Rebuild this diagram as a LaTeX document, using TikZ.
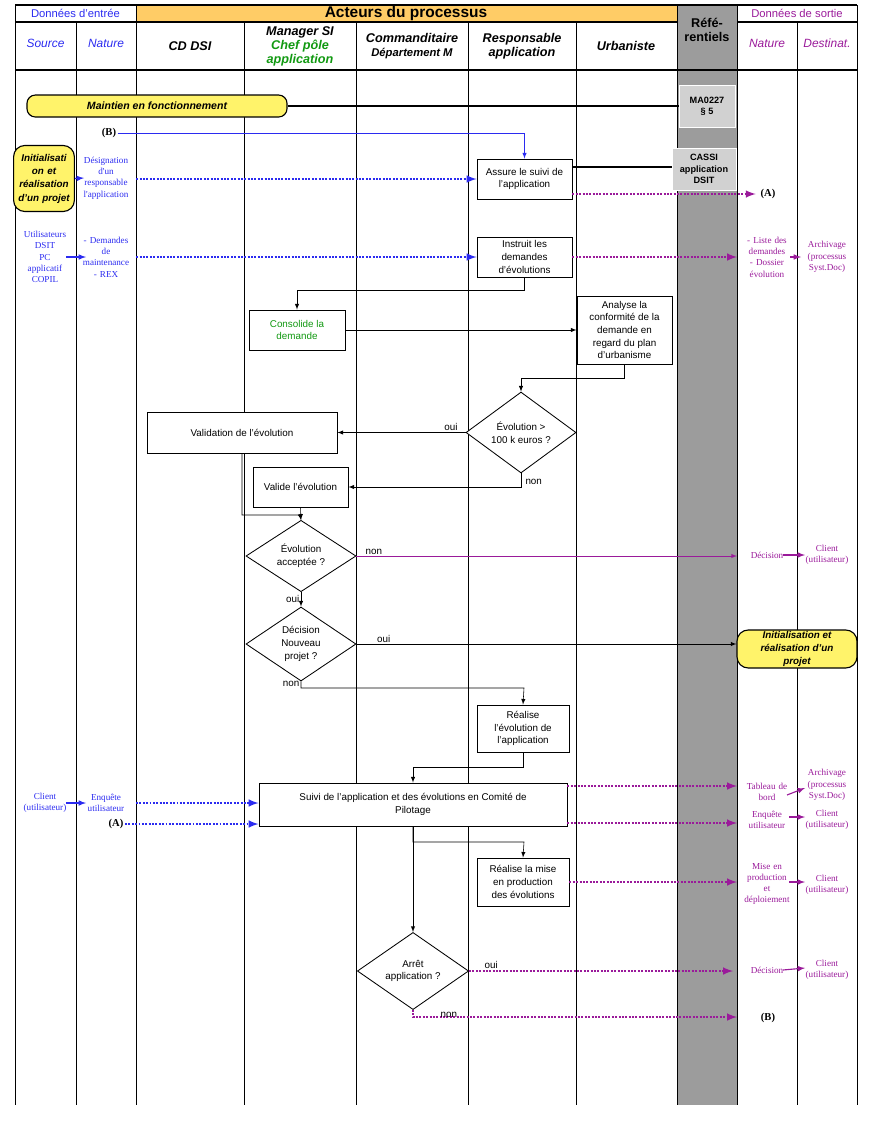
\documentclass[tikz,border=0pt]{standalone}
\usepackage{fontspec}
\setmainfont{Liberation Sans}
\newfontfamily\tms{Liberation Serif}
\usetikzlibrary{shapes.geometric,shadows,calc}
\definecolor{inblue}{HTML}{2B2BF0}
\definecolor{outpurple}{HTML}{9A1A9A}
\definecolor{paleyellow}{HTML}{FFF36A}
\definecolor{headorange}{HTML}{FFCC66}
\definecolor{refgrey}{HTML}{9C9C9C}
\definecolor{chefgreen}{HTML}{119911}
\tikzset{
  box/.style={draw, semithick, fill=white, align=center, inner sep=1pt,
    font=\fontsize{7}{9}\selectfont, drop shadow={opacity=0.35, shadow xshift=1pt, shadow yshift=-1pt}},
  dia/.style={diamond, draw, semithick, fill=white, align=center, inner sep=0pt,
    font=\fontsize{7}{9}\selectfont},
  flow/.style={-latex, thin},
  inflow/.style={-latex, inblue, densely dotted, line width=1.4pt},
  outflow/.style={-latex, outpurple, densely dotted, line width=1.4pt},
  short/.style={-latex, thick},
  intext/.style={inblue, align=center, text width=1.5cm, font=\tms\fontsize{6.5}{8}\selectfont, inner sep=0pt},
  outtext/.style={outpurple, align=center, text width=1.5cm, font=\tms\fontsize{6.5}{8}\selectfont, inner sep=0pt},
  lbl/.style={font=\fontsize{7}{8}\selectfont, inner sep=1pt},
  headtxt/.style={font=\bfseries\itshape\fontsize{9}{10}\selectfont, align=center},
  pill/.style={draw, thick, rounded corners=6pt, fill=paleyellow, align=center,
    font=\bfseries\itshape\fontsize{7.5}{9}\selectfont, inner sep=1pt},
  refbox/.style={fill=black!18, draw=white, align=center, font=\bfseries\fontsize{6.5}{8}\selectfont, inner sep=1pt}
}
\begin{document}
\begin{tikzpicture}[x=0.025cm, y=-0.025cm]
  \useasboundingbox (0,0) rectangle (870,1126);
  % header and columns
  \fill[headorange] (136,5) rectangle (677,22);
  \fill[refgrey] (677,5) rectangle (737,1105);
  \draw[thick] (15,5) -- (857,5);
  \draw[thick] (15,22) -- (677,22) (737,22) -- (857,22);
  \draw[thick] (15,70) -- (857,70);
  \foreach \x in {15,136,677,737,857} \draw (\x,5) -- (\x,1105);
  \foreach \x in {76,244,356,468,576,797} \draw (\x,22) -- (\x,1105);
  \node[inblue, font=\fontsize{8}{9}\selectfont] (hin) at (75.5,13.5) {Données d'entrée};
  \node[font=\bfseries\fontsize{11}{12}\selectfont] (hact) at (406,13.5) {Acteurs du processus};
  \node[font=\bfseries\fontsize{9}{10}\selectfont, align=center] (href) at (707,30) {Réfé-\\rentiels};
  \node[outpurple, font=\fontsize{8}{9}\selectfont] (hout) at (797,13.5) {Données de sortie};
  \node[inblue, font=\itshape\fontsize{8.5}{10}\selectfont] (hsrc) at (45.5,43) {Source};
  \node[inblue, font=\itshape\fontsize{8.5}{10}\selectfont] (hnat) at (106,43) {Nature};
  \node[headtxt] (hcd) at (190,46) {CD DSI};
  \node[headtxt] (hman) at (300,46) {Manager SI\\\textcolor{chefgreen}{Chef pôle}\\\textcolor{chefgreen}{application}};
  \node[headtxt] (hcom) at (412,46) {Commanditaire\\{\fontsize{8}{10}\selectfont Département M}};
  \node[headtxt] (hresp) at (522,46) {Responsable\\application};
  \node[headtxt] (hurb) at (626,46) {Urbaniste};
  \node[outpurple, font=\itshape\fontsize{8.5}{10}\selectfont] (hnat2) at (767,43) {Nature};
  \node[outpurple, font=\itshape\fontsize{8.5}{10}\selectfont] (hdst) at (827,43) {Destinat.};
  % referentiels
  \node[refbox, minimum width=1.4cm, minimum height=1.05cm] (ma) at (707,106) {MA0227\\§ 5};
  \node[refbox, minimum width=1.6cm, minimum height=1.05cm] (cassi) at (704,169) {CASSI\\application\\DSIT};
  \node[pill, minimum width=6.5cm, minimum height=0.55cm] (maint) at (157,106) {Maintien en fonctionnement};
  \draw[thick] (maint.east) -- (ma.west);
  % boxes
  \node[box, minimum width=2.375cm, minimum height=1cm] (suivi) at (524.5,179) {Assure le suivi de\\l'application};
  \node[box, minimum width=2.375cm, minimum height=1cm] (instr) at (524.5,257) {Instruit les\\demandes\\d'évolutions};
  \node[box, minimum width=2.4cm, minimum height=1cm, text=chefgreen] (conso) at (297,330) {Consolide la\\demande};
  \node[box, minimum width=2.375cm, minimum height=1.7cm] (analyse) at (624.5,330) {Analyse la\\conformité de la\\demande en\\regard du plan\\d'urbanisme};
  \node[dia, minimum width=2.75cm, minimum height=1.48cm] (dcent) at (521,432.5) {Évolution >\\100 k euros ?};
  \node[box, minimum width=4.75cm, minimum height=1.025cm] (valid) at (242,432.5) {Validation de l'évolution};
  \node[box, minimum width=2.375cm, minimum height=1cm] (valide) at (300.5,487) {Valide l'évolution};
  \node[dia, minimum width=2.75cm, minimum height=1.45cm] (dacc) at (301,556) {Évolution\\acceptée ?};
  \node[dia, minimum width=2.75cm, minimum height=1.45cm] (dnouv) at (301,644) {Décision\\Nouveau\\projet ?};
  \node[box, minimum width=2.3cm, minimum height=1.175cm] (realise) at (523,728.5) {Réalise\\l'évolution de\\l'application};
  \node[box, minimum width=7.7cm, minimum height=1.075cm] (comite) at (413,804.5) {Suivi de l'application et des évolutions en Comité de\\Pilotage};
  \node[box, minimum width=2.3cm, minimum height=1.2cm] (mep) at (523,882) {Réalise la mise\\en production\\des évolutions};
  \node[dia, minimum width=2.78cm, minimum height=1.45cm] (darret) at (413,971) {Arrêt\\application ?};
  % inputs
  \node[pill, rounded corners=8pt, text width=1.45cm, minimum height=1.65cm, font=\bfseries\itshape\fontsize{7}{9.5}\selectfont] (init) at (44,178.5) {Initialisati\\on et\\réalisation\\d'un projet};
  \node[intext] (desig) at (106,178) {Désignation\\d'un\\responsable\\l'application};
  \node[font=\tms\bfseries\fontsize{7.5}{9}\selectfont, inner sep=1pt] (binput) at (109,133) {(B)};
  \node[intext] (users) at (45,257) {Utilisateurs\\DSIT\\PC\\applicatif\\COPIL};
  \node[intext] (dem) at (106,257) {- Demandes\\de\\maintenance\\- REX};
  \node[intext] (client) at (45,803) {Client\\(utilisateur)};
  \node[intext] (enq) at (106,803) {Enquête\\utilisateur};
  \node[font=\tms\bfseries\fontsize{7.5}{9}\selectfont, inner sep=1pt] (ainput) at (116,824) {(A)};
  % outputs
  \node[font=\tms\bfseries\fontsize{7.5}{9}\selectfont] (aout) at (768,194) {(A)};
  \node[outtext] (liste) at (767,257) {- Liste des\\demandes\\- Dossier\\évolution};
  \node[outtext] (arch1) at (827,257) {Archivage\\(processus\\Syst.Doc)};
  \node[outtext] (dec1) at (767,555) {Décision};
  \node[outtext] (cli1) at (827,555) {Client\\(utilisateur)};
  \node[pill, rounded corners=8pt, minimum width=3cm, minimum height=0.95cm, font=\bfseries\itshape\fontsize{7}{9}\selectfont] (initout) at (797,649) {Initialisation et\\réalisation d'un\\projet};
  \node[outtext] (tab) at (767,792) {Tableau de\\bord};
  \node[outtext] (arch2) at (827,785) {Archivage\\(processus\\Syst.Doc)};
  \node[outtext] (enq2) at (767,820) {Enquête\\utilisateur};
  \node[outtext] (cli2) at (827,820) {Client\\(utilisateur)};
  \node[outtext] (misep) at (767,884) {Mise en\\production\\et\\déploiement};
  \node[outtext] (cli3) at (827,885) {Client\\(utilisateur)};
  \node[outtext] (dec2) at (767,970) {Décision};
  \node[outtext] (cli4) at (827,970) {Client\\(utilisateur)};
  \node[font=\tms\bfseries\fontsize{7.5}{9}\selectfont] (bout) at (768,1018) {(B)};
  % input connectors
  \draw[-latex, inblue] (binput.east) -| (suivi.north);
  \draw[short, inblue] ($(init.center)+(31,0)$) -- ($(desig.center)+(-22,0)$);
  \draw[inflow] (desig.east |- suivi.west) -- (suivi.west);
  \draw[short, inblue] ($(users.center)+(21,0)$) -- ($(dem.center)+(-20,0)$);
  \draw[inflow] (dem.east |- instr.west) -- (instr.west);
  \draw[short, inblue] ($(client.center)+(21,0)$) -- ($(enq.center)+(-20,0)$);
  \draw[inflow] (136,803) -- (comite.west |- 0,803);
  \draw[inflow] (ainput.east) -- (comite.west |- ainput.east);
  % flow
  \draw[thick] (suivi.east |- 0,167) -- (cassi.west |- 0,167);
  \draw[outflow] (suivi.east |- aout.west) -- (aout.west);
  \draw[outflow] (instr.east) -- (737,257);
  \draw[short, outpurple] ($(liste.center)+(23,0)$) -- ($(arch1.center)+(-26,0)$);
  \draw[flow] (instr.south) |- (297,290) -- (conso.north);
  \draw[flow] (conso.east) -- (analyse.west);
  \draw[flow] (analyse.south) |- (521,378) -- (dcent.north);
  \draw[flow] (dcent.west) -- node[lbl, pos=0.05, above left] {oui} (valid.east);
  \draw[flow] (dcent.south) |- node[lbl, pos=0.3, right=2pt] {non} (valide.east);
  \draw[flow] (valid.south) |- (300,515) -- (dacc.north);
  \draw[flow] (valide.south) -- (dacc.north);
  \draw[-latex, outpurple] (dacc.east) -- node[lbl, pos=0.02, above right, text=black] {non} (737,556);
  \draw[short, outpurple] ($(dec1.center)+(16,0)$) -- ($(cli1.center)+(-22,0)$);
  \draw[flow] (dacc.south) -- node[lbl, left] {oui} (dnouv.north);
  \draw[flow] (dnouv.east) -- node[lbl, pos=0.05, above right] {oui} (initout.west |- dnouv.east);
  \draw[flow] (dnouv.south) |- node[lbl, pos=0.2, left] {non} (524,688) -- (realise.north);
  \draw[flow] (realise.south) |- (413,767) -- (comite.north);
  \draw[outflow] (comite.east |- 0,786) -- (737,786);
  \draw[short, outpurple] ($(tab.center)+(20,3)$) -- ($(arch2.center)+(-22,3)$);
  \draw[outflow] (comite.east |- 0,823) -- (737,823);
  \draw[short, outpurple] ($(enq2.center)+(22,-3)$) -- ($(cli2.center)+(-22,-3)$);
  \draw[flow] (comite.south) |- (524,842) -- (mep.north);
  \draw[outflow] (mep.east) -- (737,882);
  \draw[short, outpurple] ($(misep.center)+(22,-2)$) -- ($(cli3.center)+(-22,-3)$);
  \draw[flow] (comite.south) -- (darret.north);
  \draw[outflow] (darret.east) -- node[lbl, pos=0.05, above right, text=black] {oui} (733,971);
  \draw[short, outpurple] ($(dec2.center)+(16,0)$) -- ($(cli4.center)+(-22,-2)$);
  \draw[outflow] (darret.south) |- node[lbl, pos=0, below right, xshift=18pt, text=black] {non} (737,1017);
\end{tikzpicture}
\end{document}
